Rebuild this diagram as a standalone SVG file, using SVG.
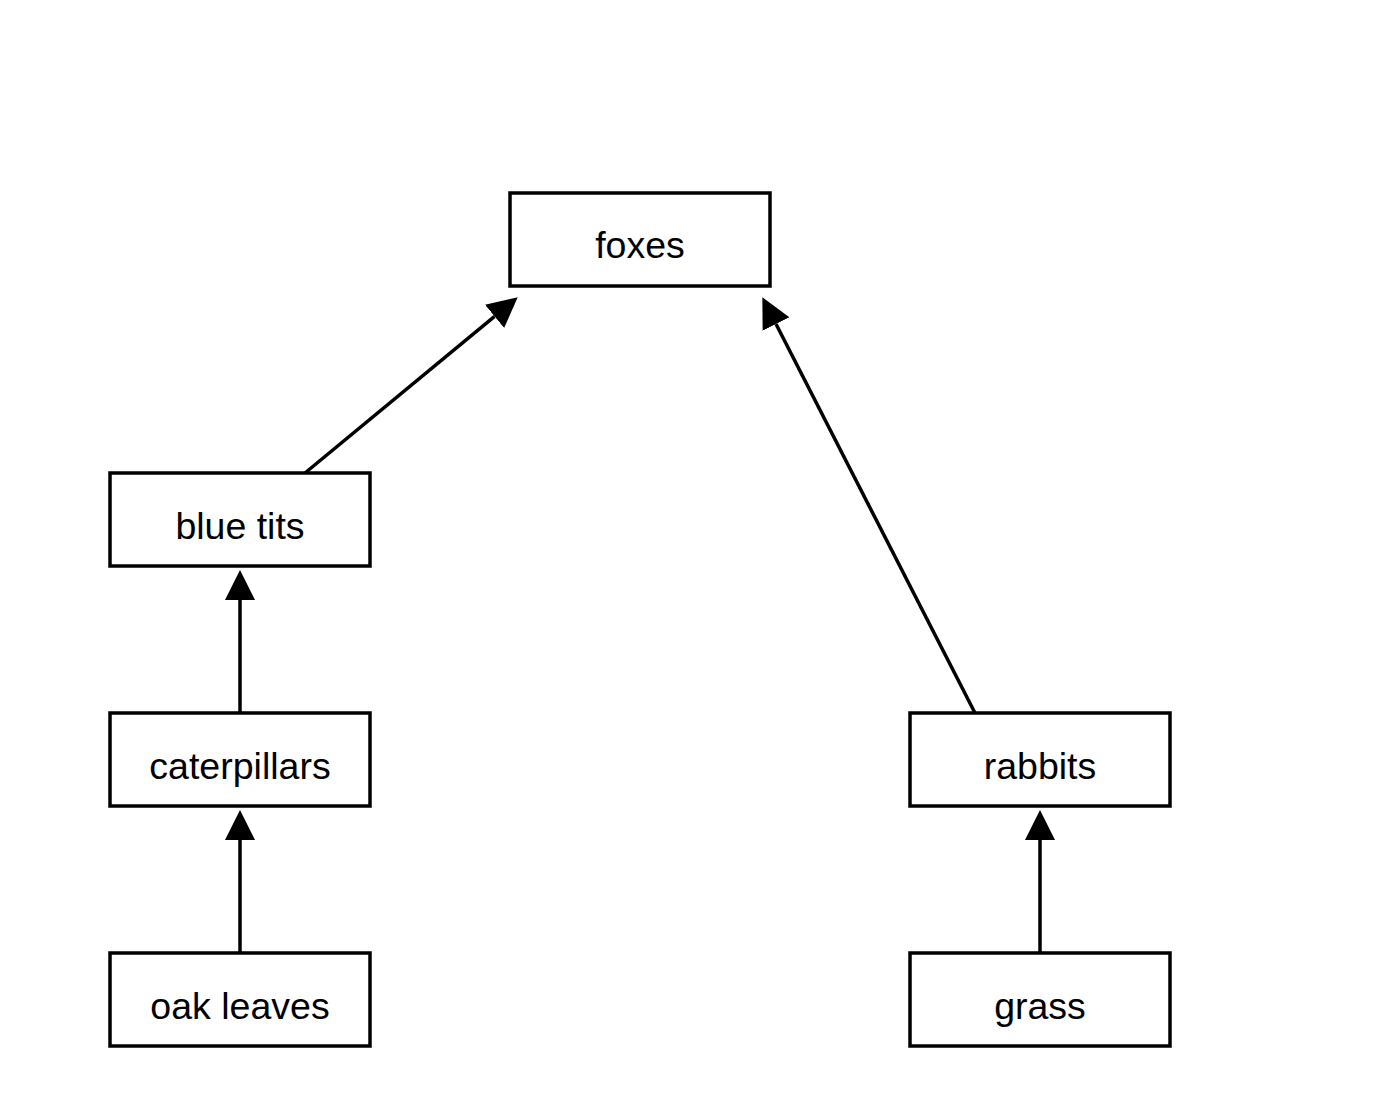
<svg xmlns="http://www.w3.org/2000/svg" width="1400" height="1120" viewBox="0 0 1400 1120">
<style>
.box{fill:#fff;stroke:#000;stroke-width:3.5}
.lbl{font-family:"Liberation Sans",Arial,sans-serif;font-size:37.5px;fill:#000;text-anchor:middle}
.edge{stroke:#000;stroke-width:3.5;fill:none;marker-end:url(#ah)}
</style>
<defs>
<marker id="ah" markerUnits="userSpaceOnUse" markerWidth="32" markerHeight="32" viewBox="0 -16 32 32" refX="0" refY="0" orient="auto">
<path d="M0,-15 L30,0 L0,15 z" fill="#000"/>
</marker>
</defs>
<rect width="1400" height="1120" fill="#fff"/>
<g id="connectors">
<line class="edge" x1="305" y1="473" x2="494.6" y2="316.4"/>
<line class="edge" x1="975" y1="713" x2="776" y2="324"/>
<line class="edge" x1="240" y1="713" x2="240" y2="600"/>
<line class="edge" x1="240" y1="953" x2="240" y2="840"/>
<line class="edge" x1="1040" y1="953" x2="1040" y2="840"/>
</g>
<g id="foxes"><rect class="box" x="510" y="193" width="260" height="93"/><text class="lbl" x="640" y="258">foxes</text></g>
<g id="blue_tits"><rect class="box" x="110" y="473" width="260" height="93"/><text class="lbl" x="240" y="538.5">blue tits</text></g>
<g id="caterpillars"><rect class="box" x="110" y="713" width="260" height="93"/><text class="lbl" x="240" y="778.5">caterpillars</text></g>
<g id="oak_leaves"><rect class="box" x="110" y="953" width="260" height="93"/><text class="lbl" x="240" y="1018.5">oak leaves</text></g>
<g id="rabbits"><rect class="box" x="910" y="713" width="260" height="93"/><text class="lbl" x="1040" y="778.5">rabbits</text></g>
<g id="grass"><rect class="box" x="910" y="953" width="260" height="93"/><text class="lbl" x="1040" y="1018.5">grass</text></g>
</svg>
